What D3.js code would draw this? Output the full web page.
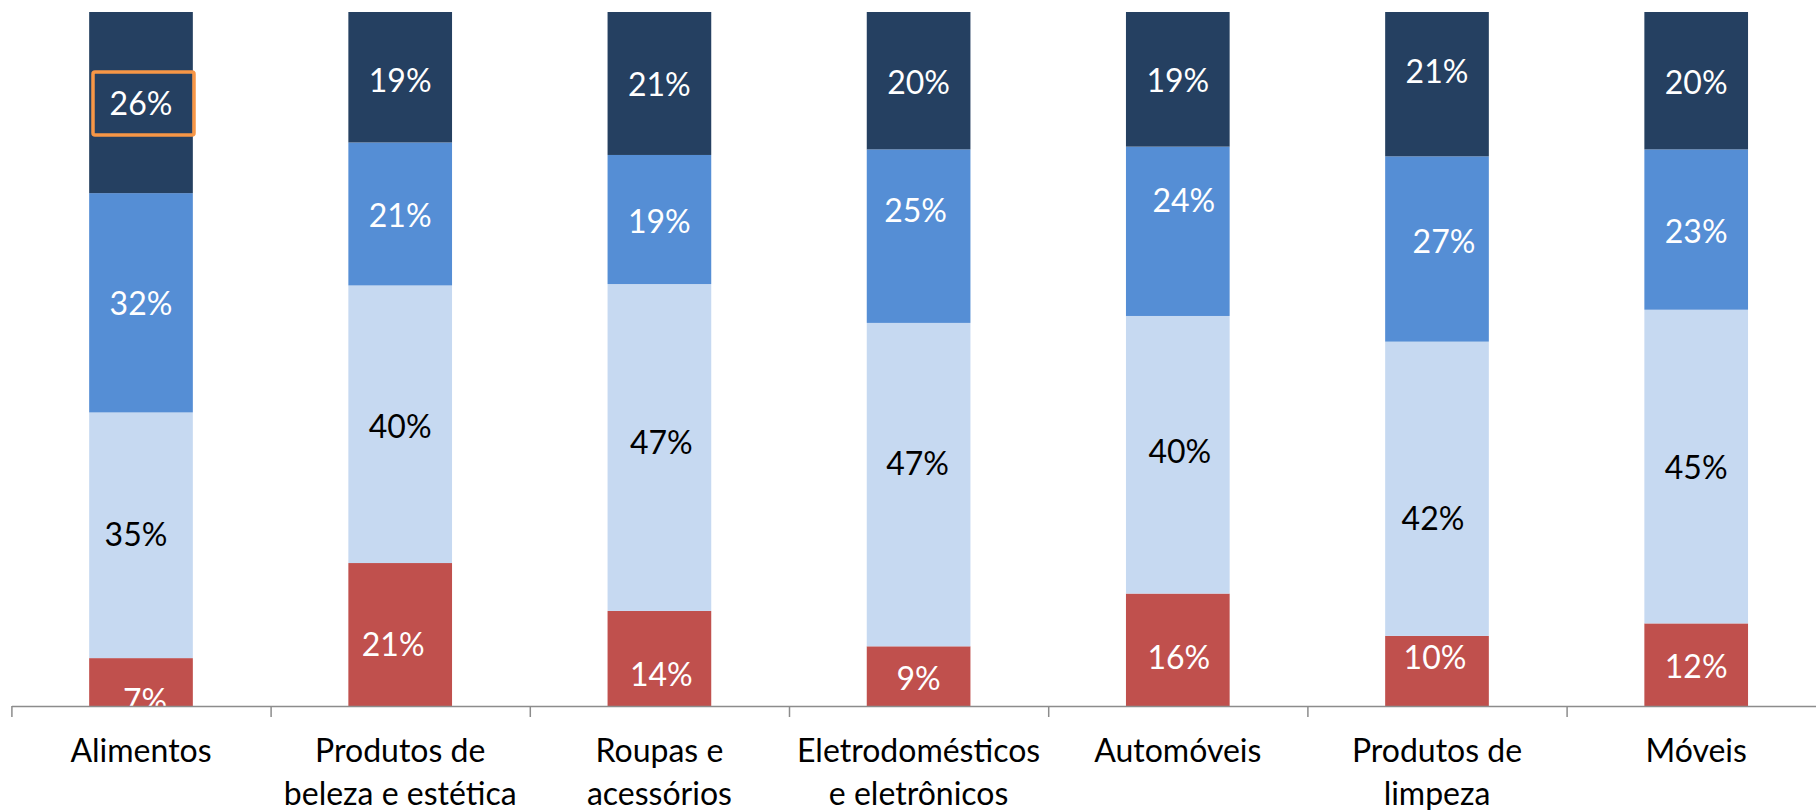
<!DOCTYPE html>
<html>
<head>
<meta charset="utf-8">
<script src="https://cdn.jsdelivr.net/npm/d3@7/dist/d3.min.js"></script>
<style>
  html, body { margin: 0; padding: 0; background: #fff; overflow: hidden; }
  svg { display: block; }
  text { font-family: Lato, "Open Sans", sans-serif; }
</style>
</head>
<body>
<svg id="chart" width="1816" height="810"></svg>
<script>
// ---- data ----
const categories = [
  "Alimentos",
  "Produtos de\nbeleza e estética",
  "Roupas e\nacessórios",
  "Eletrodomésticos\ne eletrônicos",
  "Automóveis",
  "Produtos de\nlimpeza",
  "Móveis"
];
const seriesNames = ["Série 1", "Série 2", "Série 3", "Série 4"]; // bottom -> top
const serie1 = [6.9, 20.6, 13.7, 8.6, 16.2, 10.1, 11.9];   // red
const serie2 = [35.4, 40.0, 47.1, 46.6, 40.0, 42.4, 45.2]; // light blue
const serie3 = [31.6, 20.6, 18.6, 25.0, 24.4, 26.7, 23.1]; // mid blue
const serie4 = [26.1, 18.8, 20.6, 19.8, 19.4, 20.8, 19.8]; // dark blue

// ---- layout / style ----
const colors = ["#C0504D", "#C6D9F1", "#558ED5", "#254061"];
const labelColors = ["#ffffff", "#000000", "#ffffff", "#ffffff"];
// manual label nudges [dx, dy] per series (bottom->top) per category
const labelNudge = [
  [[4, 18], [-7, 10], [2, 16], [0, 2], [1, 8], [-2, -13], [0, 2]],
  [[-5, -1], [0, 2], [2, -5], [-1, -21], [2, -3], [-4, 30], [0, 1]],
  [[0, 1], [0, 2], [0, 2], [-3, -26], [6, -31], [7, -8], [0, 2]],
  [[0, 1], [0, 3], [0, 1], [0, 2], [0, 1], [0, -13], [0, 2]]
];

const W = 1816, H = 810;
const plotTop = 12, plotBottom = 706;
const axisLeft = 11.4, axisRight = 1825.8;

const rows = categories.map((c, i) => ({
  cat: c,
  [seriesNames[0]]: serie1[i],
  [seriesNames[1]]: serie2[i],
  [seriesNames[2]]: serie3[i],
  [seriesNames[3]]: serie4[i]
}));

const stacked = d3.stack().keys(seriesNames).offset(d3.stackOffsetExpand)(rows);

const x = d3.scaleBand().domain(categories).range([axisLeft, axisRight]).padding(0);
const y = d3.scaleLinear().domain([0, 1]).range([plotBottom, plotTop]);
const barW = x.bandwidth() * 0.4;

const svg = d3.select("#chart");

svg.append("defs").append("clipPath").attr("id", "plotclip")
  .append("rect").attr("x", 0).attr("y", 0).attr("width", W).attr("height", plotBottom);

// bars
const gBars = svg.append("g");
stacked.forEach((layer, si) => {
  gBars.selectAll(null).data(layer).enter().append("rect")
    .attr("x", d => x(d.data.cat) + x.bandwidth() / 2 - barW / 2)
    .attr("width", barW)
    .attr("y", d => y(d[1]))
    .attr("height", d => y(d[0]) - y(d[1]))
    .attr("fill", colors[si]);
});

// data labels
const fmt = v => Math.round(v) + "%";
const gLab = svg.append("g").attr("clip-path", "url(#plotclip)");
const fs = 32;
stacked.forEach((layer, si) => {
  const src = [serie1, serie2, serie3, serie4][si];
  layer.forEach((d, ci) => {
    const cx = x(d.data.cat) + x.bandwidth() / 2 + labelNudge[si][ci][0];
    const cy = (y(d[0]) + y(d[1])) / 2 + labelNudge[si][ci][1];
    gLab.append("text")
      .attr("x", cx).attr("y", cy)
      .attr("dy", "0.36em")
      .attr("text-anchor", "middle")
      .attr("font-size", fs)
      .attr("fill", labelColors[si])
      .text(fmt(src[ci]));
    if (si === 3 && ci === 0) {
      svg.append("rect")
        .attr("x", cx - 48).attr("y", cy - 31.5)
        .attr("width", 101).attr("height", 63)
        .attr("rx", 2)
        .attr("fill", "none")
        .attr("stroke", "#F79646")
        .attr("stroke-width", 3.5);
    }
  });
});

// x axis line with ticks between categories
const xIdx = d3.scaleLinear().domain([0, categories.length]).range([axisLeft, axisRight]);
const axisG = svg.append("g").attr("transform", `translate(0,${plotBottom})`)
  .call(d3.axisBottom(xIdx).tickValues(d3.range(categories.length + 1)).tickFormat("").tickSize(11).tickSizeOuter(0));
axisG.select(".domain").attr("stroke", "#8C8C8C").attr("stroke-width", 1.5);
axisG.selectAll(".tick line").attr("stroke", "#8C8C8C").attr("stroke-width", 1.5);

// category labels via band axis
const catG = svg.append("g").attr("transform", `translate(0,${plotBottom})`)
  .call(d3.axisBottom(x).tickSize(0).tickFormat(""));
catG.select(".domain").remove();
catG.selectAll(".tick").each(function(d) {
  const t = d3.select(this).append("text")
    .attr("fill", "#000")
    .attr("font-size", 32)
    .attr("text-anchor", "middle");
  d.split("\n").forEach((line, li) => {
    t.append("tspan").attr("x", 0).attr("y", 56 + li * 43).text(line);
  });
});
</script>
</body>
</html>
